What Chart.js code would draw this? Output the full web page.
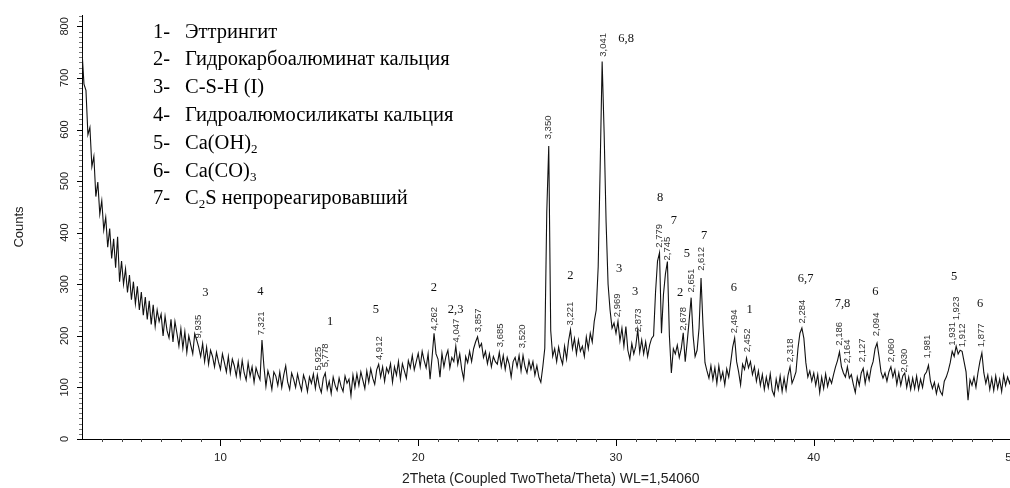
<!DOCTYPE html>
<html>
<head>
<meta charset="utf-8">
<title>XRD</title>
<script src="https://cdn.jsdelivr.net/npm/chart.js@4/dist/chart.umd.min.js"></script>
<style>
  html, body { margin: 0; padding: 0; background: #fff; overflow: hidden; }
  canvas { display: block; }
</style>
</head>
<body>
<canvas id="xrd" width="1030" height="488"></canvas>
<script>
/* diffractogram, 2Theta from 3.0 with step 0.1 */
const startTheta = 3.0;
const stepTheta = 0.1;
const counts = [
  752, 688, 676, 590, 604, 528, 548, 470, 498, 436,   // 3
  462, 405, 430, 372, 408, 350, 388, 332, 392, 305,   // 4
  345, 300, 330, 284, 318, 270, 305, 262, 296, 250,   // 5
  285, 240, 275, 232, 268, 222, 260, 218, 250, 228,   // 6
  242, 200, 238, 210, 196, 232, 188, 228, 205, 180,   // 7
  214, 176, 208, 168, 200, 182, 165, 204, 192, 178,   // 8
  160, 185, 150, 178, 145, 172, 160, 140, 168, 150,   // 9
  135, 165, 148, 130, 160, 128, 155, 142, 122, 150,   // 10
  120, 152, 128, 114, 148, 122, 140, 110, 138, 125,   // 11
  115, 192, 140, 102, 132, 118, 96, 130, 122, 104,    // 12
  130, 100, 124, 142, 110, 96, 128, 116, 100, 126,    // 13
  108, 94, 124, 112, 92, 120, 108, 126, 98, 124,      // 14
  102, 90, 118, 128, 96, 112, 88, 120, 104, 94,       // 15
  118, 102, 92, 122, 108, 116, 84, 124, 100, 126,     // 16
  104, 130, 114, 98, 132, 110, 136, 118, 106, 134,    // 17
  145, 120, 140, 112, 138, 128, 146, 110, 140, 124,   // 18
  150, 116, 146, 132, 118, 152, 138, 162, 134, 150,   // 19
  166, 140, 170, 152, 138, 165, 116, 158, 205, 165,   // 20
  155, 120, 166, 140, 160, 172, 138, 158, 150, 180,   // 21
  145, 165, 135, 116, 160, 148, 170, 150, 175, 188,   // 22
  198, 178, 185, 158, 170, 146, 165, 140, 160, 150,   // 23
  145, 168, 140, 162, 135, 158, 145, 120, 150, 158,   // 24
  140, 162, 132, 162, 140, 128, 152, 135, 150, 124,   // 25
  142, 120, 110, 140, 176, 440, 568, 210, 160, 175,   // 26
  150, 178, 158, 145, 180, 155, 190, 212, 175, 195,   // 27
  165, 192, 170, 180, 160, 198, 175, 205, 188, 228,   // 28
  250, 334, 528, 732, 594, 420, 300, 250, 215, 225,   // 29
  205, 228, 190, 215, 180, 218, 172, 155, 185, 165,   // 30
  180, 212, 168, 192, 165, 188, 160, 182, 195, 200,   // 31
  285, 345, 361, 205, 280, 320, 344, 200, 128, 175,   // 32
  165, 182, 158, 175, 206, 150, 188, 230, 274, 200,   // 33
  160, 172, 215, 312, 220, 148, 132, 118, 142, 115,   // 34
  138, 108, 142, 115, 130, 105, 136, 120, 148, 178,   // 35
  196, 150, 130, 105, 145, 135, 157, 138, 150, 125,   // 36
  140, 112, 132, 104, 125, 96, 120, 100, 126, 94,     // 37
  84, 116, 96, 122, 92, 118, 95, 124, 140, 108,       // 38
  118, 130, 175, 205, 215, 195, 148, 120, 132, 112,   // 39
  128, 104, 125, 90, 120, 98, 126, 102, 118, 108,     // 40
  125, 140, 152, 169, 140, 128, 120, 140, 118, 125,   // 41
  106, 90, 120, 104, 128, 137, 108, 130, 114, 138,    // 42
  150, 175, 186, 160, 130, 118, 128, 112, 130, 140,   // 43
  120, 134, 106, 128, 104, 122, 128, 100, 120, 96,    // 44
  118, 98, 122, 96, 116, 100, 124, 130, 143, 112,     // 45
  98, 110, 88, 106, 92, 85, 112, 120, 132, 148,       // 46
  170, 160, 180, 165, 172, 170, 150, 130, 75, 115,    // 47
  104, 120, 100, 128, 150, 167, 128, 108, 124, 96,    // 48
  118, 94, 122, 98, 116, 92, 124, 104, 120, 108,      // 49
  122, 106, 120, 110, 116                             // 50
];

/* d-spacing labels over the peaks: 2Theta, text, counts where the text starts */
const peakTheta = [8.89, 12.08, 14.94, 15.32, 18.04, 20.83, 21.95, 23.04, 24.13, 25.28,
  26.59, 27.67, 29.35, 30.07, 31.11, 32.19, 32.59, 33.43, 33.79, 34.30,
  35.98, 36.62, 38.82, 39.42, 41.27, 41.71, 42.47, 43.17, 43.92, 44.60,
  45.76, 47.02, 47.23, 47.52, 48.46];
const peakD = ['9,935', '7,321', '5,925', '5,778', '4,912', '4,262', '4,047', '3,857', '3,685', '3,520',
  '3,350', '3,221', '3,041', '2,969', '2,873', '2,779', '2,745', '2,678', '2,651', '2,612',
  '2,494', '2,452', '2,318', '2,284', '2,186', '2,164', '2,127', '2,094', '2,060', '2,030',
  '1,981', '1,931', '1,923', '1,912', '1,877'];
const peakLabelCounts = [195, 201, 133, 139, 153, 210, 187, 207, 178, 176,
  581, 220, 741, 236, 207, 371, 346, 210, 284, 326,
  205, 168, 149, 224, 181, 147, 149, 199, 149, 129,
  156, 181, 230, 178, 178];

/* phase numbers */
const phaseText = ['3', '4', '1', '5', '2', '2,3', '2', '6,8', '3', '3', '8', '7', '2', '5', '7',
  '6', '1', '6,7', '7,8', '6', '5', '6'];
const phaseTheta = [9.24, 12.02, 15.54, 17.86, 20.79, 21.89, 27.69, 30.51, 30.16, 30.97, 32.23, 32.93,
  33.24, 33.59, 34.45, 35.96, 36.76, 39.59, 41.45, 43.11, 47.10, 48.41];
const phaseCounts = [284, 286, 228, 251, 293, 251, 317, 776, 330, 286, 467, 423,
  284, 359, 394, 293, 251, 311, 263, 286, 315, 263];

/* key, "_n" = subscript */
const legendLines = [
  '1- Эттрингит',
  '2- Гидрокарбоалюминат кальция',
  '3- C-S-H (I)',
  '4- Гидроалюмосиликаты кальция',
  '5- Ca(OH)_2',
  '6- Ca(CO)_3',
  '7- C_2S непрореагировавший'
];

const points = counts.map((c, i) => ({ x: +(startTheta + i * stepTheta).toFixed(2), y: c }));

const serif = '"Liberation Serif", "Times New Roman", serif';
const sans = '"Liberation Sans", Arial, sans-serif';

/* tick marks, peak annotations and the key */
const xrdDecor = {
  id: 'xrdDecor',
  afterDatasetsDraw(chart) {
    const { ctx, chartArea: a, scales: { x, y } } = chart;
    ctx.save();

    // x ticks every degree, longer at tens
    ctx.lineWidth = 1;
    for (let t = 4; t <= 50; t++) {
      const px = Math.round(x.getPixelForValue(t)) + 0.5;
      const len = t % 10 === 0 ? 7 : 3;
      ctx.strokeStyle = t % 10 === 0 ? '#000' : '#444';
      ctx.beginPath();
      ctx.moveTo(px, a.bottom);
      ctx.lineTo(px, a.bottom + len);
      ctx.stroke();
    }
    // y ticks every 10, longer at hundreds
    for (let v = 0; v <= 820; v += 10) {
      const py = Math.round(y.getPixelForValue(v)) + 0.5;
      const len = v % 100 === 0 ? 5 : 3;
      ctx.strokeStyle = v % 100 === 0 ? '#000' : '#777';
      ctx.beginPath();
      ctx.moveTo(a.left - len, py);
      ctx.lineTo(a.left, py);
      ctx.stroke();
    }

    // d-spacing values, rotated
    ctx.font = '9.5px ' + sans;
    ctx.fillStyle = '#333';
    ctx.textAlign = 'left';
    ctx.textBaseline = 'middle';
    peakTheta.forEach((t, i) => {
      ctx.save();
      ctx.translate(x.getPixelForValue(t), y.getPixelForValue(peakLabelCounts[i]));
      ctx.rotate(-Math.PI / 2);
      ctx.fillText(peakD[i], 0, 0);
      ctx.restore();
    });

    // phase numbers
    ctx.font = '12.5px ' + serif;
    ctx.fillStyle = '#111';
    ctx.textAlign = 'center';
    phaseText.forEach((s, i) => {
      ctx.fillText(s, x.getPixelForValue(phaseTheta[i]), y.getPixelForValue(phaseCounts[i]));
    });

    // key
    ctx.textAlign = 'left';
    ctx.textBaseline = 'alphabetic';
    ctx.fillStyle = '#000';
    legendLines.forEach((line, i) => {
      const base = 37.5 + i * 27.8;
      const num = line.slice(0, 2);
      const rest = line.slice(3);
      ctx.font = '20.5px ' + serif;
      ctx.fillText(num, a.left + 71, base);
      let cx = a.left + 103;
      rest.split(/(_\d)/).forEach(part => {
        if (!part) return;
        if (part[0] === '_') {
          ctx.font = '13px ' + serif;
          ctx.fillText(part[1], cx, base + 4);
          cx += ctx.measureText(part[1]).width;
        } else {
          ctx.font = '20.5px ' + serif;
          ctx.fillText(part, cx, base);
          cx += ctx.measureText(part).width;
        }
      });
    });
    ctx.restore();
  }
};

new Chart(document.getElementById('xrd'), {
  type: 'line',
  data: {
    datasets: [{
      data: points,
      borderColor: '#111',
      borderWidth: 1.1,
      pointRadius: 0,
      tension: 0,
      fill: false
    }]
  },
  options: {
    responsive: false,
    animation: false,
    events: [],
    layout: { padding: { top: 15, right: 7.5, left: 0, bottom: 0 } },
    plugins: { legend: { display: false }, tooltip: { enabled: false } },
    scales: {
      x: {
        type: 'linear',
        min: 3,
        max: 50.4,
        grid: { display: false, drawTicks: false },
        border: { display: true, color: '#000', width: 1 },
        ticks: { stepSize: 10, includeBounds: false, padding: 12, color: '#222',
          font: { family: sans, size: 11.5 } },
        title: { display: true, text: '2Theta (Coupled TwoTheta/Theta) WL=1,54060', color: '#222',
          font: { family: sans, size: 14 }, padding: { top: 0, bottom: 0 } },
        afterFit(s) { s.height = 49; }
      },
      y: {
        min: 0,
        max: 822,
        grid: { display: false, drawTicks: false },
        border: { display: true, color: '#000', width: 1 },
        ticks: { stepSize: 100, includeBounds: false, minRotation: 90, maxRotation: 90,
          crossAlign: 'center', padding: 8, color: '#222', font: { family: sans, size: 11 } },
        title: { display: true, text: 'Counts', color: '#222',
          font: { family: sans, size: 13 }, padding: { top: 12, bottom: 0 } },
        afterFit(s) { s.width = 82; }
      }
    }
  },
  plugins: [xrdDecor]
});
</script>
</body>
</html>
